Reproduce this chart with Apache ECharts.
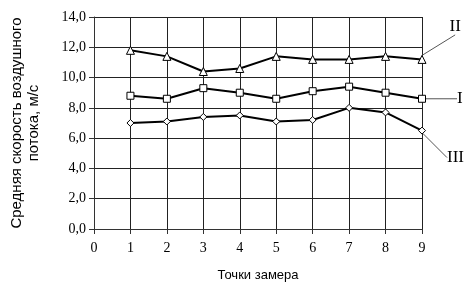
<!DOCTYPE html>
<html><head><meta charset="utf-8">
<script src="https://cdn.jsdelivr.net/npm/echarts@6/dist/echarts.min.js"></script>
<style>html,body{margin:0;padding:0;background:#fff}#c{width:468px;height:300px}</style>
</head><body><div id="c"></div>
<script>
var points = [1, 2, 3, 4, 5, 6, 7, 8, 9];
var seriesI   = [8.8, 8.6, 9.3, 9.0, 8.6, 9.1, 9.4, 9.0, 8.6];
var seriesII  = [11.8, 11.4, 10.4, 10.6, 11.4, 11.2, 11.2, 11.4, 11.2];
var seriesIII = [7.0, 7.1, 7.4, 7.5, 7.1, 7.2, 8.0, 7.7, 6.5];
var seriesNames = ['I', 'II', 'III'];
var xTitle = 'Точки замера';
var yTitle = 'Средняя скорость воздушного\nпотока, м/с';

var chart = echarts.init(document.getElementById('c'), null, {renderer: 'canvas'});
var serif = '"Liberation Serif", "DejaVu Serif", serif';
var sans = '"Liberation Sans", Arial, sans-serif';

function build(vals, name, symbol, size, dx, dy) {
  var data = vals.map(function (v, i) {
    var item = {value: [points[i], v]};
    if (i === vals.length - 1) {
      item.label = {show: true, formatter: name};
      item.labelLine = {show: true};
    }
    return item;
  });
  return {
    type: 'line', name: name, data: data,
    symbol: symbol, symbolSize: size, showAllSymbol: true,
    lineStyle: {color: '#000', width: 2},
    itemStyle: {color: '#fff', borderColor: '#000', borderWidth: 1},
    label: {show: false, position: 'right', distance: 3, fontFamily: serif, fontSize: 17, color: '#000'},
    labelLine: {lineStyle: {color: '#555', width: 1}},
    labelLayout: {dx: dx, dy: dy},
    emphasis: {disabled: true},
    animation: false, z: 3
  };
}

chart.setOption({
  animation: false,
  grid: {left: 86, right: 46, top: 17, bottom: 71},
  xAxis: {
    type: 'value', min: 0, max: 9, interval: 1,
    name: xTitle, nameLocation: 'middle', nameGap: 40,
    nameTextStyle: {fontFamily: sans, fontSize: 13, color: '#000'},
    axisLine: {show: true, lineStyle: {color: '#333', width: 1}},
    axisTick: {show: true, length: 5, lineStyle: {color: '#333'}},
    axisLabel: {fontFamily: serif, fontSize: 14, color: '#000', margin: 12},
    splitLine: {show: true, lineStyle: {color: '#222', width: 1}}
  },
  yAxis: {
    type: 'value', min: 0, max: 14, interval: 2,
    name: yTitle, nameLocation: 'middle', nameGap: 52,
    nameTextStyle: {fontFamily: sans, fontSize: 15, color: '#000', lineHeight: 17},
    axisLine: {show: true, lineStyle: {color: '#333', width: 1}},
    axisTick: {show: true, length: 5, lineStyle: {color: '#333'}},
    axisLabel: {fontFamily: serif, fontSize: 14, color: '#000', margin: 8,
      formatter: function (v) { return v.toFixed(1).replace('.', ','); }},
    splitLine: {show: true, lineStyle: {color: '#222', width: 1}}
  },
  series: [
    build(seriesI, seriesNames[0], 'rect', 7, 28, 0),
    build(seriesII, seriesNames[1], 'triangle', 8, 20, -33),
    build(seriesIII, seriesNames[2], 'diamond', 7, 18, 27)
  ]
});
</script></body></html>
